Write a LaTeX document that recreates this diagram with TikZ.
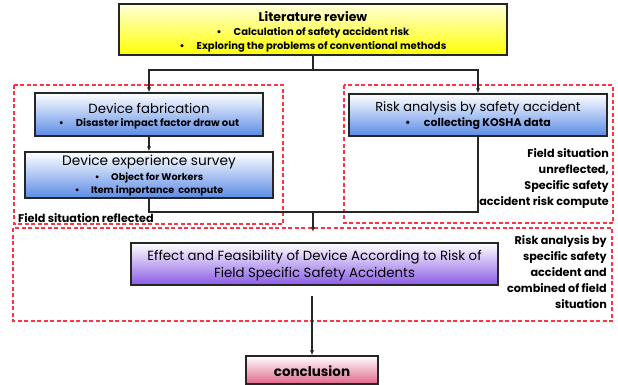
\documentclass[tikz,border=0pt]{standalone}
\usepackage{fontspec}
\setmainfont{Poppins}
\usetikzlibrary{arrows.meta}
\definecolor{dashred}{HTML}{FF3344}
\definecolor{litY}{HTML}{FFFF00}
\definecolor{boxB}{HTML}{5A8BE6}
\definecolor{boxP}{HTML}{8A5CE6}
\definecolor{boxK}{HTML}{E0668A}
\tikzset{
  x=1pt, y=-1pt,
  boxbase/.style={draw=black!85, line width=1.1pt, inner sep=0pt},
  litbox/.style={boxbase, top color=white!85!litY, bottom color=litY},
  bluebox/.style={boxbase, top color=white, bottom color=boxB},
  purplebox/.style={boxbase, top color=white, bottom color=boxP},
  pinkbox/.style={boxbase, top color=white, bottom color=boxK},
  region/.style={draw=dashred, line width=1.3pt, dash pattern=on 4pt off 2.5pt},
  conn/.style={draw=black!85, line width=1.2pt},
  arr/.style={conn, -{Latex[length=5pt,width=4pt]}},
  txt/.style={inner sep=0pt},
  bigt/.style={txt, font=\fontsize{13.3}{16}\selectfont},
  bult/.style={txt, font=\fontsize{10}{12}\selectfont\bfseries},
  note/.style={align=right, font=\fontsize{11.2}{16}\selectfont\bfseries, inner sep=0pt},
}
\newcommand{\bul}{\textbullet\hspace{1.2em}}
\begin{document}
\begin{tikzpicture}
\useasboundingbox (0,0) rectangle (618,385);
% dashed regions
\draw[region] (14,85) rectangle (283,224);
\draw[region] (344,85) rectangle (613,223);
\draw[region] (13,228) rectangle (612,321);
% boxes
\node[litbox, minimum width=388pt, minimum height=51pt] (lit) at (313,29.5) {};
\node[bluebox, minimum width=228pt, minimum height=43pt] (fab) at (149,114.5) {};
\node[bluebox, minimum width=248pt, minimum height=46pt] (surv) at (149,175) {};
\node[bluebox, minimum width=258pt, minimum height=42pt] (risk) at (478,115) {};
\node[purplebox, minimum width=367pt, minimum height=42pt] (eff) at (314.5,264) {};
\node[pinkbox, minimum width=132pt, minimum height=28pt] (conc) at (312,370) {};
% box texts
\node[txt, font=\fontsize{12.5}{15}\selectfont\bfseries] (litT) at (313,17) {Literature review};
\node[bult] (litB1) at (313,33) {\bul Calculation of safety accident risk};
\node[bult] (litB2) at (313,47) {\bul Exploring the problems of conventional methods};
\node[bigt] (fabT) at (149,108) {Device fabrication};
\node[bult] (fabB) at (149,124) {\bul Disaster impact factor draw out};
\node[bigt, font=\fontsize{13.7}{16}\selectfont] (survT) at (149,162) {Device experience survey};
\node[bult, font=\fontsize{9.6}{12}\selectfont\bfseries] (survB1) at (149,178) {\bul Object for Workers};
\node[bult, font=\fontsize{9.6}{12}\selectfont\bfseries] (survB2) at (149,191) {\bul Item importance\ \ compute};
\node[bigt, font=\fontsize{13}{16}\selectfont] (riskT) at (478,108) {Risk analysis by safety accident};
\node[bult, font=\fontsize{11}{12}\selectfont\bfseries] (riskB) at (478,124) {\bul collecting KOSHA data};
\node[bigt] (effT1) at (314.5,257) {Effect and Feasibility of Device According to Risk of};
\node[bigt] (effT2) at (314.5,274) {Field Specific Safety Accidents};
\node[txt, font=\fontsize{13.5}{16}\selectfont\bfseries] (concT) at (312,371) {conclusion};
% notes
\node[note, anchor=west] (n1) at (18,218) {Field situation reflected};
\node[note, anchor=east] (n2) at (609,179)
  {Field situation\\unreflected,\\Specific safety\\accident risk compute};
\node[note, anchor=east] (n3) at (607,272)
  {Risk analysis by\\specific safety\\accident and\\combined of field\\situation};
% connectors
\coordinate (j1) at (313,70);
\coordinate (j2) at (313,212);
\coordinate (a2) at (313,232);
\coordinate (s3) at (312,296);
\draw[conn] (lit.south) -- (j1);
\draw[arr] (j1) -| (fab.north);
\draw[arr] (j1) -| (risk.north);
\draw[arr] (fab.south) -- (surv.north);
\draw[conn] (surv.south) |- (j2);
\draw[conn] (risk.south) |- (j2);
\draw[arr] (j2) -- (a2);
\draw[arr] (s3) -- (conc.north);
\end{tikzpicture}
\end{document}
